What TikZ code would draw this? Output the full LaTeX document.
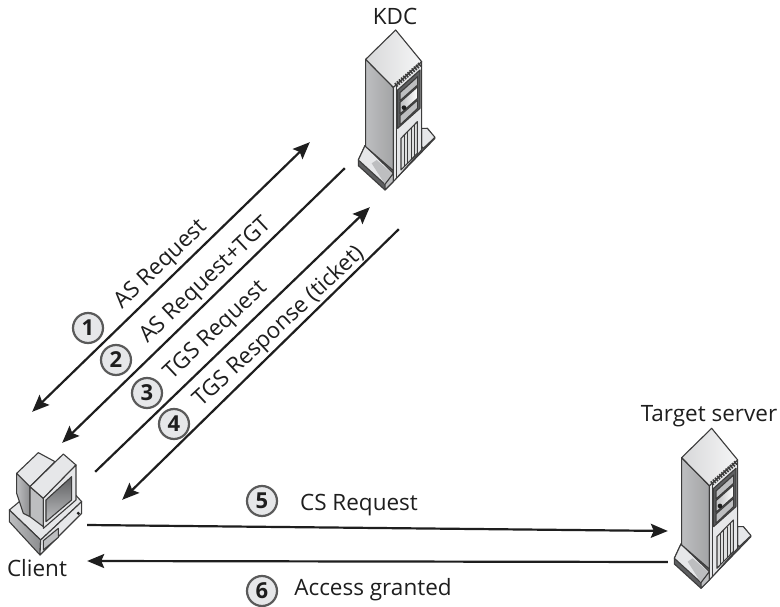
\documentclass[tikz,border=0pt]{standalone}
\usepackage{fontspec}
\setmainfont{Open Sans}
\usetikzlibrary{arrows.meta}
\definecolor{ink}{HTML}{1E1E1E}
\definecolor{edgeg}{HTML}{3C3C3C}
\definecolor{ringg}{HTML}{5A5A5A}
\definecolor{lite}{HTML}{E6E7E9}
\definecolor{mid}{HTML}{BDBEC0}
\definecolor{dark}{HTML}{8C8D8F}
\definecolor{deep}{HTML}{5E5F61}
\tikzset{
  tip/.tip={Stealth[length=17pt,width=14pt,inset=3pt]},
  conn/.style={draw=ink,line width=2.2pt,-tip},
  connb/.style={draw=ink,line width=2.2pt,tip-tip},
  lab/.style={font=\fontsize{22.5pt}{24pt}\selectfont,text=ink,inner sep=0pt},
  num/.style={circle,draw=ringg,line width=2.2pt,fill=lite,minimum size=30pt,inner sep=0pt,text=ink,font=\fontsize{22pt}{22pt}\selectfont\bfseries},
  part/.style={draw=edgeg,line width=1.1pt,line join=round},
  pt/.style={inner sep=0pt,minimum size=0pt}
}
\newcommand{\towerserver}[2]{%
\begin{scope}[shift={(#1,#2)},x=0.3333pt,y=-0.3333pt]
 % base
 \fill[part,fill=deep] (85,480) -- (85,497) -- (165,570) -- (315,415) -- (292,385) -- (105,437) -- cycle;
 \fill[part,fill=lite] (105,437) -- (85,480) -- (165,553) -- (190,520) -- cycle;
 \fill[mid] (125,490) -- (165,553) -- (188,522) -- (140,480) -- cycle;
 \fill[part,fill=lite] (275,385) -- (292,385) -- (315,412) -- (280,445) -- (275,440) -- cycle;
 \fill[part,fill=mid] (165,553) -- (165,570) -- (190,545) -- (190,520) -- cycle;
 % left side
 \fill[part,left color=mid,right color=dark!80] (107,178) -- (107,440) -- (190,512) -- (190,262) -- cycle;
 % front
 \fill[part,fill=lite] (190,262) -- (190,545) -- (213,520) -- (275,450) -- (275,185) -- cycle;
 \draw[part] (200,258) -- (200,535);
 % top
 \fill[part,left color=mid!60,right color=lite!40] (197,90) -- (107,178) -- (190,262) -- (275,185) -- cycle;
 % strip
 \draw[line width=4.5pt,edgeg,dash pattern=on 1.6pt off 1.2pt] (197,256) -- (271,192);
 % bays
 \fill[part,fill=deep] (203,270) -- (270,210) -- (270,325) -- (203,385) -- cycle;
 \fill[part,fill=mid] (210,278) -- (263,230) -- (263,255) -- (210,302) -- cycle;
 \fill[part,left color=mid,right color=white] (210,307) -- (263,260) -- (263,295) -- (210,342) -- cycle;
 \fill[part,fill=mid] (210,347) -- (263,300) -- (263,325) -- (210,375) -- cycle;
 \fill[ink] (222,323) circle (7);
 % vents
 \fill[part,fill=mid!50] (213,415) -- (262,365) -- (262,460) -- (213,510) -- cycle;
 \foreach \i in {1,...,4}{\draw[line width=.9pt,edgeg] ({213+\i*10},{415-\i*10}) -- ({213+\i*10},{510-\i*10});}
\end{scope}}
\begin{document}
\begin{tikzpicture}[x=1pt,y=-1pt]
\useasboundingbox (0,0) rectangle (780,607);
\fill[white] (0,0) rectangle (780,607);
% servers
\towerserver{330}{0}
\towerserver{646}{398.3}
% client
\begin{scope}[shift={(0,450)},x=0.3333pt,y=-0.3333pt]
 \fill[part,fill=lite] (28,180) -- (70,145) -- (215,122) -- (245,155) -- (122,270) -- cycle;
 \fill[part,left color=mid,right color=dark] (28,180) -- (28,215) -- (120,315) -- (122,270) -- cycle;
 \fill[part,fill=lite] (122,270) -- (120,315) -- (245,190) -- (245,155) -- cycle;
 \fill[part,fill=mid] (130,272) -- (175,235) -- (175,262) -- (130,300) -- cycle;
 \fill[ink] (235,190) circle (5);
 % monitor rear
 \fill[part,left color=mid,right color=dark] (50,70) -- (50,130) -- (70,190) -- (90,200) -- (90,110) -- cycle;
 \fill[part,fill=lite] (50,70) -- (115,8) -- (165,35) -- (90,110) -- cycle;
 % monitor front frame
 \fill[part,fill=mid] (90,110) -- (130,145) -- (130,230) -- (90,200) -- cycle;
 \fill[part,fill=lite] (90,110) -- (190,12) -- (228,45) -- (130,145) -- cycle;
 \fill[part,fill=lite] (130,145) -- (228,45) -- (228,150) -- (130,235) -- cycle;
 \fill[part,bottom color=mid,top color=deep] (138,150) -- (215,80) -- (215,150) -- (138,215) -- cycle;
\end{scope}
% anchors
\node[pt] (c1a) at (32,412) {};
\node[pt] (k1) at (310,142) {};
\node[pt] (k2) at (345,168) {};
\node[pt] (c2) at (62,443) {};
\node[pt] (c3) at (95,472) {};
\node[pt] (k3) at (370,207) {};
\node[pt] (k4) at (399,229) {};
\node[pt] (c4) at (122,500) {};
\node[pt] (c5) at (87,525) {};
\node[pt] (t5) at (668,531) {};
\node[pt] (t6) at (668,562) {};
\node[pt] (c6) at (87,561) {};
\draw[connb] (c1a) -- (k1);
\draw[conn] (k2) -- (c2);
\draw[conn] (c3) -- (k3);
\draw[conn] (k4) -- (c4);
\draw[conn] (c5) -- (t5);
\draw[conn] (t6) -- (c6);
% labels
\node[lab] (kdc) at (395,16) {KDC};
\node[lab] (client) at (37,568) {Client};
\node[lab] (target) at (709,416) {Target server};
\node[num] (n1) at (88,328) {1};
\node[num] (n2) at (116,360) {2};
\node[num] (n3) at (147,393) {3};
\node[num] (n4) at (174,424) {4};
\node[num] (n5) at (262,501) {5};
\node[num] (n6) at (262,591) {6};
\node[lab,rotate=43.5] (l1) at (161,265) {AS Request};
\node[lab,rotate=43.5] (l2) at (206,281) {AS Request+TGT};
\node[lab,rotate=43.5] (l3) at (216,331) {TGS Request};
\node[lab,rotate=43] (l4) at (279,327) {TGS Response (ticket)};
\node[lab] (l5) at (359,505) {CS Request};
\node[lab] (l6) at (373,590) {Access granted};
\end{tikzpicture}
\end{document}
